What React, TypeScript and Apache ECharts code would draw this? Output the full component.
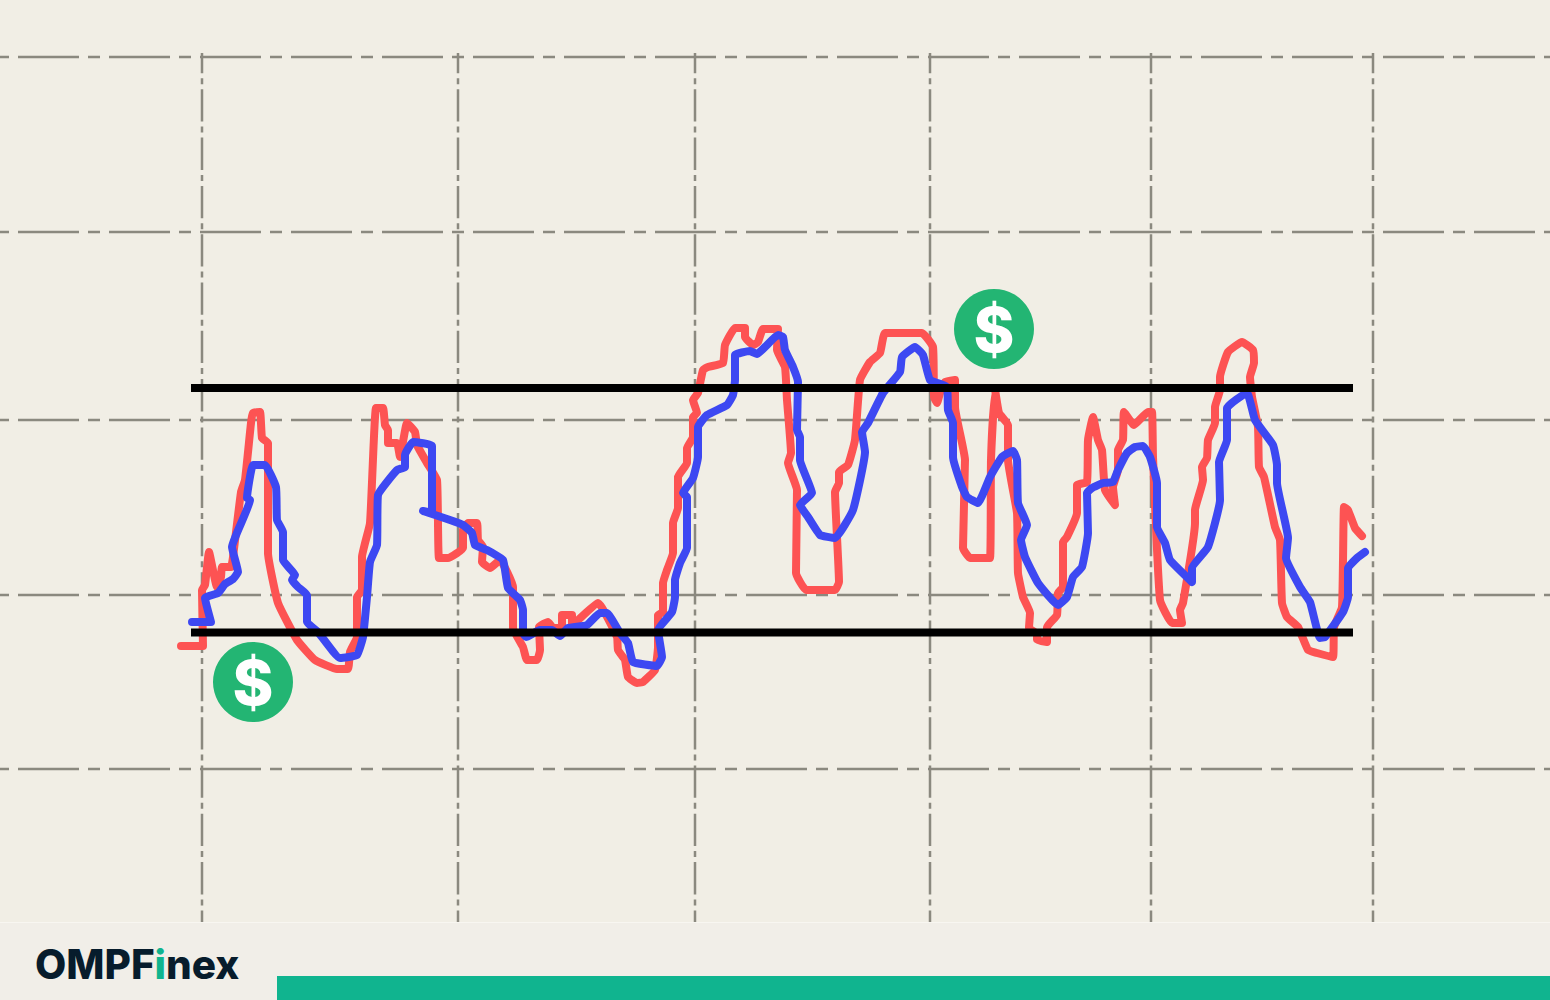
import React, { useEffect, useRef } from "react";
import * as echarts from "echarts";

const gridXs = [202, 458, 695, 930, 1151, 1373];
const gridYs = [57, 232, 420, 595, 769];
const levelYs = [388, 632.5];
const levelXs = [191, 1353];
const coins: [number, number][] = [[253, 682], [994, 329]];

const redLine: [number, number][] = [
  [181,646],[203,646],[202,590],[205,585],[209,552],[217,587],[221,577],[222,567],[231,567],[233,557],
  [241,492],[245,480],[251,423],[253,413],[260,412],[262,438],[268,443],[268,553],[278,603],[297,640],
  [315,660],[337,669],[348,669],[350,652],[357,637],[357,597],[362,590],[362,557],[370,523],[376,408],
  [383,408],[385,425],[388,430],[388,443],[397,443],[400,457],[407,423],[415,432],[417,445],[427,463],
  [437,480],[439,558],[448,558],[463,548],[463,530],[468,523],[477,523],[478,540],[483,547],[482,562],
  [490,568],[500,560],[513,587],[513,628],[523,647],[527,660],[537,660],[540,650],[539,627],[548,622],
  [553,628],[562,628],[562,615],[572,615],[572,626],[575,623],[598,603],[617,637],[618,650],[625,660],
  [628,677],[637,683],[643,682],[655,670],[658,647],[658,615],[663,612],[663,583],[667,570],[673,553],
  [673,523],[678,508],[678,477],[687,463],[687,448],[693,437],[693,417],[697,413],[693,400],[698,393],
  [703,370],[708,367],[723,363],[725,345],[735,328],[745,328],[745,337],[753,345],[758,342],[763,329],
  [778,329],[777,350],[785,367],[787,400],[791,453],[788,463],[797,490],[796,573],[806,590],[835,590],
  [839,582],[835,492],[839,483],[839,472],[848,465],[855,440],[860,380],[870,362],[880,353],[885,333],
  [922,333],[933,347],[934,397],[937,403],[940,393],[945,382],[955,380],[955,407],[965,460],[963,548],
  [970,558],[990,558],[991,460],[995,390],[999,413],[1008,425],[1008,460],[1017,513],[1018,573],[1023,597],
  [1030,613],[1029,628],[1037,634],[1037,640],[1047,642],[1047,627],[1057,615],[1058,593],[1063,587],[1063,542],
  [1067,537],[1077,513],[1077,485],[1087,482],[1088,440],[1093,417],[1098,440],[1102,450],[1105,490],[1115,505],
  [1113,487],[1118,470],[1118,450],[1123,440],[1124,412],[1134,425],[1148,412],[1152,412],[1153,457],[1160,600],
  [1172,623],[1182,623],[1180,610],[1183,603],[1195,523],[1195,510],[1203,480],[1202,467],[1207,458],[1208,440],
  [1215,423],[1215,407],[1220,390],[1220,377],[1228,352],[1242,342],[1253,350],[1254,363],[1250,377],[1252,397],
  [1258,427],[1259,467],[1264,477],[1275,527],[1280,540],[1282,603],[1287,617],[1298,627],[1308,650],[1317,653],
  [1333,657],[1334,627],[1342,607],[1344,507],[1348,510],[1355,528],[1362,536],
];

const blueLine: [number, number][] = [
  [192,622],[211,622],[205,598],[218,593],[225,584],[233,579],[238,572],[232,547],[250,500],[247,498],
  [253,465],[265,465],[276,487],[277,520],[283,532],[283,560],[295,575],[292,580],[298,587],[307,595],
  [307,622],[318,632],[340,658],[357,655],[363,637],[367,597],[370,562],[377,545],[378,495],[397,470],
  [405,467],[405,455],[413,442],[432,446],[432,513],[423,511],[450,520],[463,525],[472,533],[475,545],
  [487,550],[503,560],[508,588],[520,600],[523,610],[523,633],[526,637],[540,630],[552,630],[560,636],
  [568,628],[587,625],[600,613],[607,613],[620,633],[628,643],[633,662],[657,666],[662,657],[658,630],
  [672,612],[675,597],[675,580],[680,563],[687,548],[687,497],[683,493],[693,478],[698,457],[698,427],
  [707,415],[727,405],[733,395],[735,380],[735,355],[750,351],[757,354],[778,335],[783,337],[785,350],
  [793,367],[798,382],[797,430],[800,437],[800,460],[812,493],[800,505],[808,517],[820,535],[835,538],
  [853,510],[865,452],[862,432],[868,423],[883,393],[900,372],[902,357],[915,347],[923,355],[930,380],
  [947,387],[948,410],[953,423],[953,457],[962,487],[967,497],[978,503],[990,477],[1002,457],[1013,451],
  [1017,460],[1018,503],[1027,525],[1021,540],[1025,557],[1038,583],[1058,605],[1067,597],[1073,577],[1082,567],
  [1088,533],[1087,493],[1092,488],[1103,483],[1113,482],[1118,470],[1127,453],[1135,447],[1143,446],[1150,457],
  [1157,483],[1157,527],[1165,543],[1170,560],[1192,582],[1192,568],[1208,547],[1220,500],[1219,462],[1227,440],
  [1227,408],[1247,393],[1255,420],[1273,445],[1277,465],[1277,483],[1288,538],[1286,558],[1300,587],[1310,602],
  [1320,638],[1325,637],[1343,612],[1348,597],[1348,568],[1357,558],[1365,552],
];

export default function App() {
  const ref = useRef<HTMLDivElement>(null);
  useEffect(() => {
    if (!ref.current) return;
    const chart = echarts.init(ref.current, undefined, { renderer: "svg" });
    const gridStyle = { color: "#8B897F", width: 2.5, opacity: 1 };
    const plain = { type: "line" as const, showSymbol: false, silent: true, symbol: "none" };
    chart.setOption({
      animation: false,
      backgroundColor: "#F1EEE5",
      grid: { left: 0, right: 0, top: 0, bottom: 0 },
      xAxis: { type: "value", min: 0, max: 1550, show: false },
      yAxis: { type: "value", min: 0, max: 1000, inverse: true, show: false },
      tooltip: { show: false },
      graphic: [
        { type: "rect", shape: { x: 0, y: 922, width: 1550, height: 78 }, style: { fill: "#F1EEE8" }, silent: true },
        { type: "rect", shape: { x: 0, y: 922, width: 1550, height: 1 }, style: { fill: "#F8F6F1" }, silent: true },
        { type: "rect", shape: { x: 277, y: 976, width: 1273, height: 24 }, style: { fill: "#10B48F" }, silent: true },
        {
          type: "text",
          x: 35,
          y: 964,
          style: {
            text: "{a|OMPF}{b|i}{a|nex}",
            verticalAlign: "middle",
            rich: {
              a: { fontFamily: "Inter", fontWeight: 800, fontSize: 40.5, fill: "#071C2C" },
              b: { fontFamily: "Inter", fontWeight: 800, fontSize: 40.5, fill: "#10B48F" },
            },
          },
        },
      ],
      series: [
        ...gridYs.map((y) => ({
          ...plain, z: 1,
          data: [[0, y], [1550, y]],
          lineStyle: { ...gridStyle, type: [61, 9, 12, 9], dashOffset: 73 },
        })),
        ...gridXs.map((x) => ({
          ...plain, z: 1,
          data: [[x, 53], [x, 922]],
          lineStyle: { ...gridStyle, type: [32.3, 5, 6, 5], dashOffset: 12 },
        })),
        {
          ...plain, z: 3, name: "%K", data: redLine, smooth: 0.12,
          lineStyle: { color: "#FD5353", width: 8, cap: "round", join: "round" },
        },
        {
          ...plain, z: 4, name: "%D", data: blueLine, smooth: 0.12,
          lineStyle: { color: "#3D48F2", width: 8, cap: "round", join: "round" },
        },
        ...levelYs.map((y) => ({
          ...plain, z: 5,
          data: levelXs.map((x) => [x, y]),
          lineStyle: { color: "#000000", width: 8 },
        })),
        {
          type: "scatter", z: 6, silent: true, data: coins, symbol: "circle", symbolSize: 80,
          itemStyle: { color: "#23B573", opacity: 1 },
          label: {
            show: true, position: "inside", formatter: "$", color: "#FFFFFF", opacity: 1,
            fontFamily: "Inter", fontWeight: 800, fontSize: 62,
          },
        },
      ],
    });
    return () => chart.dispose();
  }, []);
  return <div ref={ref} style={{ position: "absolute", left: 0, top: 0, width: 1550, height: 1000 }} />;
}
